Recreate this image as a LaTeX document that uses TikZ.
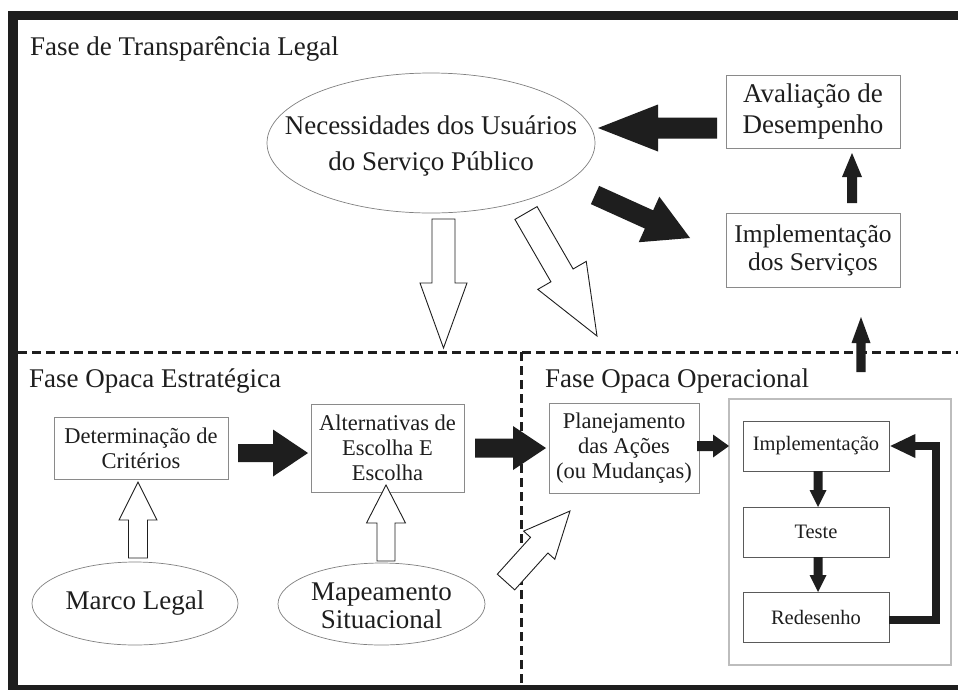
\documentclass[tikz,border=0pt]{standalone}
\usepackage{fontspec}
\setmainfont{Liberation Serif}
\usetikzlibrary{calc,shapes.geometric,arrows.meta}
\definecolor{ink}{HTML}{1E1E1E}
\definecolor{boxline}{HTML}{8A8A8A}
\definecolor{darkline}{HTML}{5A5A5A}
\definecolor{lightline}{HTML}{BDBDBD}
\newcommand\fbig{\fontsize{27}{31}\selectfont}
\newcommand\fmed{\fontsize{22.5}{25}\selectfont}
\newcommand\fsml{\fontsize{20.5}{24}\selectfont}
% #1 style, #2 tail, #3 tip, #4 half shaft, #5 half head, #6 head length
\newcommand\blockarrow[6]{%
  \coordinate (bah) at ($(#3)!#6!(#2)$);
  \path[#1] ($(#2)!#4!90:(#3)$)
    -- ($(bah)!#4!-90:(#2)$)
    -- ($(bah)!#5!-90:(#2)$)
    -- (#3)
    -- ($(bah)!#5!90:(#2)$)
    -- ($(bah)!#4!90:(#2)$)
    -- ($(#2)!#4!-90:(#3)$) -- cycle;}
\tikzset{
  box/.style={draw=boxline, line width=0.9pt, align=center, inner sep=0pt},
  ibox/.style={draw=darkline, line width=0.9pt, align=center, inner sep=0pt},
  ell/.style={draw=gray, line width=0.7pt, ellipse, inner sep=0pt},
  title/.style={anchor=base west, font=\fbig, inner sep=0pt},
  solidarrow/.style={fill=ink},
  openarrow/.style={fill=white, draw=ink, line width=0.9pt, line join=miter},
  divider/.style={draw=ink, line width=3pt, dash pattern=on 9pt off 5pt},
}
\begin{document}
\begin{tikzpicture}[x=1pt, y=-1pt, every node/.style={text=ink}]
\clip (0,0) rectangle (958,689);
\fill[white] (0,0) rectangle (958,689);
% frame
\draw[ink, line width=9.5pt] (13,15.5) rectangle (990,690);
% dividers
\draw[divider] (18,352) -- (958,352);
\draw[divider] (521.5,352) -- (521.5,685);
% titles
\node[title] (t1) at (30,55) {Fase de Transparência Legal};
\node[title] (t2) at (29,387) {Fase Opaca Estratégica};
\node[title] (t3) at (545,387) {Fase Opaca Operacional};
% top region
\node[ell, minimum width=328pt, minimum height=140pt] (nec) at (431,143) {};
\node[font=\fontsize{27}{36}\selectfont, align=center, inner sep=0pt] (nect) at (431,146) {Necessidades dos Usuários\\do Serviço Público};
\node[box, font=\fbig, minimum width=174pt, minimum height=73pt] (aval) at (813,111.5) {Avaliação de\\Desempenho};
\node[box, font=\fontsize{25.5}{28}\selectfont, minimum width=174pt, minimum height=74pt] (implserv) at (813,250) {Implementação\\dos Serviços};
% strategic region
\node[box, font=\fmed, minimum width=174pt, minimum height=62pt] (det) at (141,448) {Determinação de\\Critérios};
\node[box, font=\fmed, minimum width=153pt, minimum height=88pt] (alt) at (387.5,448) {Alternativas de\\Escolha E\\Escolha};
\node[ell, minimum width=206pt, minimum height=83pt] (marco) at (135,603.5) {};
\node[font=\fbig, inner sep=0pt] (marcot) at (marco) {Marco Legal};
\node[ell, minimum width=207pt, minimum height=82pt] (mapa) at (381.5,604) {};
\node[font=\fontsize{27}{28}\selectfont, align=center, inner sep=0pt] (mapat) at (381.5,606) {Mapeamento\\Situacional};
% operational region
\node[box, font=\fmed, minimum width=150pt, minimum height=90pt] (plan) at (624,448) {Planejamento\\das Ações\\(ou Mudanças)};
\node[draw=lightline, line width=1.2pt, minimum width=222pt, minimum height=266pt, inner sep=0pt] (opbox) at (840,532) {};
\node[ibox, font=\fsml, minimum width=146pt, minimum height=50pt] (impl) at (816,446) {Implementação};
\node[ibox, font=\fsml, minimum width=146pt, minimum height=50pt] (teste) at (816,532) {Teste};
\node[ibox, font=\fsml, minimum width=146pt, minimum height=50pt] (redes) at (816,617) {Redesenho};
% arrow end points
\coordinate (a1s) at (717,128);   \coordinate (a1e) at (598,128);
\coordinate (a2s) at (852,203);   \coordinate (a2e) at (852,153);
\coordinate (a3s) at (595,195);   \coordinate (a3e) at (690,238);
\coordinate (a4s) at (238,453);   \coordinate (a4e) at (308,453);
\coordinate (a5s) at (475,448);   \coordinate (a5e) at (546,448);
\coordinate (a6s) at (697,446);   \coordinate (a6e) at (729,446);
\coordinate (a7s) at (818,471);   \coordinate (a7e) at (818,507);
\coordinate (a8s) at (818,557);   \coordinate (a8e) at (818,592);
\coordinate (a9s) at (861,372);   \coordinate (a9e) at (861,317);
\coordinate (b1s) at (443.5,219); \coordinate (b1e) at (443.5,348);
\coordinate (b2s) at (526,213);   \coordinate (b2e) at (597,336);
\coordinate (b3s) at (138,558);   \coordinate (b3e) at (138,482);
\coordinate (b4s) at (386,561);   \coordinate (b4e) at (386,485);
\coordinate (b5s) at (506,582);   \coordinate (b5e) at (570,511);
\coordinate (loop) at (936,446);
% solid arrows
\blockarrow{solidarrow}{a1s}{a1e}{10.5pt}{23.5pt}{60pt}
\blockarrow{solidarrow}{a2s}{a2e}{5pt}{10pt}{24pt}
\blockarrow{solidarrow}{a3s}{a3e}{10pt}{25pt}{45pt}
\blockarrow{solidarrow}{a4s}{a4e}{9pt}{23.5pt}{35pt}
\blockarrow{solidarrow}{a5s}{a5e}{9.5pt}{22pt}{33pt}
\blockarrow{solidarrow}{a6s}{a6e}{5pt}{11.5pt}{16pt}
\blockarrow{solidarrow}{a7s}{a7e}{4.5pt}{8.5pt}{17pt}
\blockarrow{solidarrow}{a8s}{a8e}{4.5pt}{8.5pt}{17pt}
\blockarrow{solidarrow}{a9s}{a9e}{4.7pt}{9.5pt}{26pt}
% loop
\draw[ink, line width=8pt, line join=miter, -{Triangle[length=26pt, width=22pt]}]
  ($(redes.east)+(0,3)$) -| (loop) -- (impl.east);
% open arrows
\blockarrow{openarrow}{b1s}{b1e}{11.5pt}{23.5pt}{65pt}
\blockarrow{openarrow}{b2s}{b2e}{12.8pt}{28pt}{70pt}
\blockarrow{openarrow}{b3s}{b3e}{9.5pt}{19pt}{38pt}
\blockarrow{openarrow}{b4s}{b4e}{9pt}{19.5pt}{38pt}
\blockarrow{openarrow}{b5s}{b5e}{11.7pt}{21pt}{46pt}
\end{tikzpicture}
\end{document}
